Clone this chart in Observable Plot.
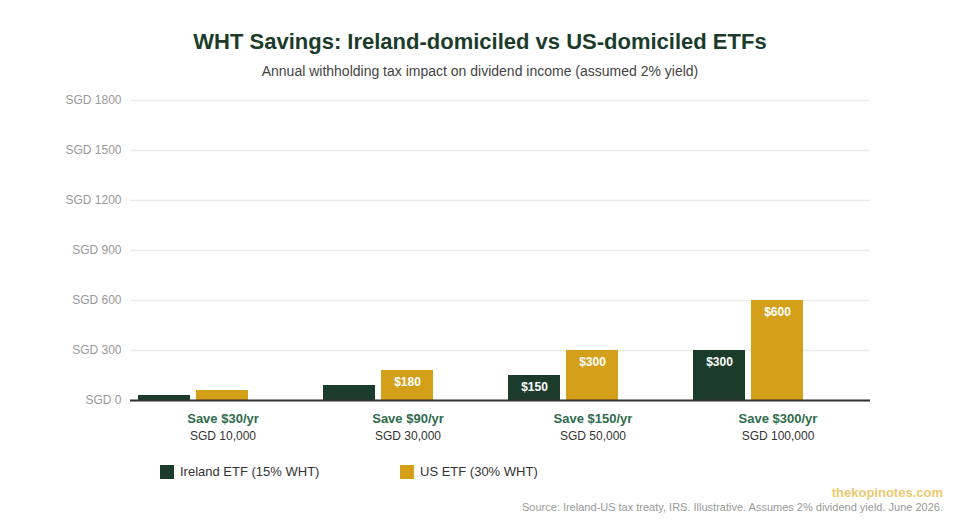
<!DOCTYPE html>
<html>
<head>
<meta charset="utf-8">
<script src="https://cdn.jsdelivr.net/npm/d3@7"></script>
<script src="https://cdn.jsdelivr.net/npm/@observablehq/plot@0.6"></script>
<style>
  html, body { margin: 0; padding: 0; background: #fff; }
  body { width: 960px; height: 520px; position: relative; overflow: hidden;
         font-family: "Liberation Sans", Arial, Helvetica, sans-serif; }
  .abs { position: absolute; }
  #title { top: 29px; left: 0; width: 960px; text-align: center; font-size: 22px; line-height: 26px;
           font-weight: bold; color: #1c3c2b; }
  #subtitle { top: 62px; left: 0; width: 960px; text-align: center; font-size: 14px; line-height: 18px; color: #444; }
  #chart { top: 90px; left: 0; }
  .leg { top: 463px; font-size: 13px; line-height: 18px; color: #333; display: flex; align-items: center; }
  .sw { width: 14px; height: 14px; margin-right: 6px; display: inline-block; }
  #brand { right: 17px; top: 484px; font-size: 13px; line-height: 18px; font-weight: bold; color: #ecc96f; }
  #source { right: 17px; top: 500px; font-size: 11px; line-height: 14px; color: #999; }
</style>
</head>
<body>
<div id="title" class="abs">WHT Savings: Ireland-domiciled vs US-domiciled ETFs</div>
<div id="subtitle" class="abs">Annual withholding tax impact on dividend income (assumed 2% yield)</div>
<div id="chart" class="abs"></div>
<div id="legend"></div>
<div id="brand" class="abs">thekopinotes.com</div>
<div id="source" class="abs">Source: Ireland-US tax treaty, IRS. Illustrative. Assumes 2% dividend yield. June 2026.</div>
<script>
// ---- data ----
const groups = ["SGD 10,000", "SGD 30,000", "SGD 50,000", "SGD 100,000"];
const savingsLabels = ["Save $30/yr", "Save $90/yr", "Save $150/yr", "Save $300/yr"];
const seriesNames = ["Ireland ETF (15% WHT)", "US ETF (30% WHT)"];
const irelandValues = [30, 90, 150, 300];
const usValues = [60, 180, 300, 600];
const yTicks = [0, 300, 600, 900, 1200, 1500, 1800];
const colors = ["#1c3c2b", "#d4a01a"];

const rows = [];
groups.forEach((g, i) => {
  rows.push({group: g, series: seriesNames[0], value: irelandValues[i]});
  rows.push({group: g, series: seriesNames[1], value: usValues[i]});
});
const groupRows = groups.map((g, i) => ({group: g, save: savingsLabels[i]}));
const xDomain = [...seriesNames, "(spacer)"];

const plot = Plot.plot({
  width: 960,
  height: 360,
  marginTop: 10,
  marginBottom: 50,
  marginLeft: 130,
  marginRight: 90,
  style: {fontFamily: '"Liberation Sans", Arial, Helvetica, sans-serif', fontSize: "12px", background: "transparent"},
  fx: {domain: groups, padding: 0, axis: null, label: null},
  x: {domain: xDomain, paddingInner: 0.1, paddingOuter: 0.129, axis: null, label: null},
  y: {domain: [0, 1800], ticks: yTicks, tickFormat: d => "SGD " + d, label: null, tickSize: 0, tickPadding: 9},
  color: {domain: seriesNames, range: colors},
  marks: [
    Plot.gridY(yTicks, {stroke: "#ebebeb", strokeOpacity: 1, strokeWidth: 1.5}),
    Plot.axisY({ticks: yTicks, tickFormat: d => "SGD " + d, tickSize: 0, tickPadding: 9, fill: "#999", fontSize: 12, label: null}),
    Plot.barY(rows, {fx: "group", x: "series", y: "value", fill: "series"}),
    Plot.text(rows.filter(d => d.value > 100), {fx: "group", x: "series", y: "value", text: d => "$" + d.value,
      dy: 12, fill: "white", fontWeight: "bold", fontSize: 12, lineAnchor: "middle"}),
    Plot.ruleY([0], {stroke: "#333", strokeWidth: 2}),
    Plot.text(groupRows, {fx: "group", text: "save", frameAnchor: "bottom", dy: 18, fill: "#2e6b4c",
      fontWeight: "bold", fontSize: 13, lineAnchor: "middle"}),
    Plot.text(groupRows, {fx: "group", text: "group", frameAnchor: "bottom", dy: 36, fill: "#333",
      fontSize: 12, lineAnchor: "middle"})
  ]
});
document.getElementById("chart").appendChild(plot);

// legend
const legendLefts = [160, 400];
const legend = document.getElementById("legend");
seriesNames.forEach((s, i) => {
  const d = document.createElement("div");
  d.className = "abs leg";
  d.style.left = legendLefts[i] + "px";
  const sw = document.createElement("span");
  sw.className = "sw";
  sw.style.background = colors[i];
  d.appendChild(sw);
  d.appendChild(document.createTextNode(s));
  legend.appendChild(d);
});
</script>
</body>
</html>
